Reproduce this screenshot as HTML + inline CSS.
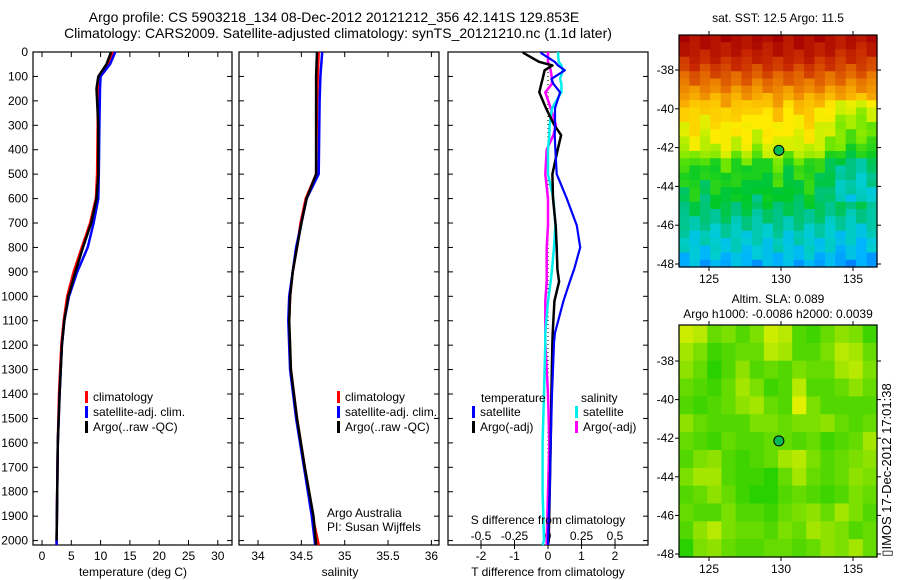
<!DOCTYPE html>
<html><head><meta charset="utf-8"><style>
html,body{margin:0;padding:0;background:#fff;}
svg{display:block;font-family:"Liberation Sans",sans-serif;}
</style></head><body>
<svg id="fig" width="900" height="580" viewBox="0 0 900 580" xmlns="http://www.w3.org/2000/svg">
<text x="334" y="22" font-size="14" text-anchor="middle">Argo profile: CS 5903218_134 08-Dec-2012 20121212_356 42.141S 129.853E</text>
<text x="338" y="38" font-size="14" text-anchor="middle">Climatology: CARS2009. Satellite-adjusted climatology: synTS_20121210.nc (1.1d later)</text>
<g id="g1"></g>
<g id="g2"></g>
<g id="g3"></g>
<g id="m1"></g>
<g id="m2"></g>
<text transform="translate(891,470) rotate(-90)" font-size="13" text-anchor="middle">▯IMOS 17-Dec-2012 17:01:38</text>
</svg>
<script>
// ---- data ----
const depthT = [0,50,100,150,300,500,600,700,800,900,1000,1100,1200,1400,1600,1800,2000,2060];
const tempClim = [12.1,11.3,9.8,9.5,9.5,9.4,9.2,8.2,6.8,5.4,4.3,3.7,3.3,2.9,2.7,2.6,2.5,2.5];
const tempSat  = [12.5,11.6,10.0,9.9,9.8,9.7,9.6,8.8,7.8,6.0,4.6,3.8,3.4,3.0,2.7,2.6,2.5,2.5];
const tempArgo = [11.8,11.0,9.6,9.3,9.6,9.6,9.3,8.4,7.0,5.7,4.5,3.8,3.4,3.0,2.7,2.6,2.5];
const depthS = [0,100,200,500,600,700,800,900,1000,1100,1200,1300,1500,1700,1900,2060];
const salClim = [34.70,34.69,34.68,34.67,34.55,34.49,34.45,34.40,34.37,34.36,34.36,34.38,34.45,34.54,34.63,34.70];
const salSat  = [34.74,34.72,34.71,34.70,34.56,34.50,34.44,34.40,34.36,34.35,34.36,34.37,34.44,34.53,34.62,34.66];
const salArgo = [34.68,34.67,34.67,34.67,34.56,34.50,34.45,34.40,34.37,34.36,34.37,34.38,34.45,34.54,34.64,34.67];
const depthD = [0,5,40,55,75,110,130,165,230,300,340,400,500,600,710,800,890,940,1020,1150,1190,1400,1600,1800,2000,2060];
const dTsat  = [-0.2,-0.2,0.2,0.3,0.5,0.1,0.16,0.36,0.21,0.21,0.2,0.22,0.26,0.56,0.86,0.96,0.78,0.65,0.46,0.21,0.18,0.12,0.08,0.05,0.0,0.0];
const dTargo = [-0.75,-0.72,-0.27,0.13,-0.1,-0.16,-0.2,-0.26,-0.06,0.19,0.39,0.29,0.13,0.15,0.23,0.26,0.28,0.33,0.19,0.14,0.13,0.1,0.08,0.05,0.02,0.0];
const dSsat  = [0.075,0.075,0.08,0.1,0.11,0.09,0.1,0.1,0.03,0.012,0.01,0.0,0.0,0.04,0.055,0.045,0.03,0.02,0.0,-0.02,-0.02,-0.03,-0.04,-0.04,-0.03,-0.04];
const dSargo = [0.0,0.0,0.0,0.01,0.02,0.03,0.03,-0.02,0.02,0.06,0.04,-0.01,-0.02,0.0,0.0,-0.01,-0.01,-0.01,-0.02,-0.02,-0.02,0.0,0.01,0.0,-0.01,-0.01];
const depthTicks = [0,100,200,300,400,500,600,700,800,900,1000,1100,1200,1300,1400,1500,1600,1700,1800,1900,2000];
const tempTicks = [0,5,10,15,20,25,30];
const salTicks = [34,34.5,35,35.5,36];
const salTickLabels = ["34","34.5","35","35.5","36"];
const dTTicks = [-2,-1,0,1,2];
const dSTicks = [-0.5,-0.25,0,0.25,0.5];
const dSTickLabels = ["-0.5","-0.25","0","0.25","0.5"];
const lonTicks = [125,130,135];
const latTicks = [-38,-40,-42,-44,-46,-48];
const argoLon = 129.853, argoLat = -42.141;
// SST map: row base colour index (north->south), and eastern cool intrusion
const sstRows = [0.97,0.95,0.93,0.9,0.87,0.83,0.8,0.76,0.72,0.68,0.65,0.63,0.61,0.6,0.58,0.56,0.52,0.46,0.44,0.43,0.42,0.41,0.4,0.39,0.37,0.35,0.33,0.31,0.3,0.29,0.27,0.25];
const sstColAdj = [0,0.02,-0.01,0.01,0.03,0,0.02,-0.02,0.01,0.03,-0.01,0.01,0.02,-0.01,-0.05,-0.08,-0.1,-0.1,-0.09];
const sstColWiggle = [0.03,-0.03,0.01,-0.02,0.03,0,-0.03,0.02,-0.01];
// SLA map: 0 = green, 1 = yellow
const slaGrid = [
[0.9,0.8,0.4,0.5,0.3,0.5,0.9,0.8,0.3,0.2,0.4,0.6,0.5,0.2],
[0.7,0.5,0.2,0.3,0.4,0.4,0.8,0.7,0.3,0.3,0.5,0.8,0.7,0.4],
[0.6,0.4,0.1,0.3,0.6,0.3,0.4,0.3,0.5,0.4,0.4,0.7,0.8,0.5],
[0.4,0.3,0.2,0.4,0.7,0.5,0.2,0.3,0.8,0.3,0.3,0.4,0.6,0.4],
[0.3,0.2,0.3,0.4,0.6,0.7,0.4,0.3,1.0,0.5,0.3,0.3,0.3,0.3],
[0.6,0.4,0.3,0.3,0.3,0.5,0.5,0.4,0.5,0.5,0.6,0.4,0.3,0.4],
[0.4,0.3,0.2,0.4,0.3,0.3,0.4,0.4,0.3,0.4,0.2,0.3,0.4,0.7],
[0.3,0.5,0.6,0.3,0.2,0.3,0.4,0.7,0.8,0.5,0.3,0.4,0.5,0.6],
[0.5,0.7,0.7,0.3,0.2,0.2,0.1,0.4,0.7,0.4,0.3,0.4,0.6,0.5],
[0.3,0.4,0.6,0.4,0.2,0.1,0.1,0.3,0.4,0.3,0.2,0.3,0.5,0.4],
[0.4,0.3,0.3,0.5,0.3,0.3,0.2,0.4,0.5,0.6,0.4,0.7,0.5,0.3],
[0.3,0.6,0.8,0.5,0.4,0.4,0.3,0.5,0.4,0.7,0.6,0.5,0.3,0.4],
[0.1,0.5,0.6,0.4,0.3,0.3,0.4,0.4,0.3,0.4,0.6,0.5,0.7,0.4]];

// ---- helpers ----
const NS = "http://www.w3.org/2000/svg";
function mk(tag, attrs, parent){ const e=document.createElementNS(NS,tag); for(const k in attrs) e.setAttribute(k,attrs[k]); parent.appendChild(e); return e; }
const Y0 = 52, YS = 0.2443;
const yD = d => Y0 + d*YS;
const PT = 545;

function axesBox(g, x0, x1){
  const r = mk('rect',{x:x0,y:Y0,width:x1-x0,height:PT-Y0,fill:'none',stroke:'#000','stroke-width':1.2},g);
  
  
  depthTicks.forEach(d=>{
    mk('line',{x1:x0,x2:x0+5,y1:yD(d),y2:yD(d),stroke:'#000'},g);
    mk('line',{x1:x1,x2:x1-5,y1:yD(d),y2:yD(d),stroke:'#000'},g);
  });
}
function line(g, xs, ds, fx, color, w, name){
  const p = xs.map((v,i)=>fx(v).toFixed(1)+','+Math.min(PT,yD(ds[i])).toFixed(1)).join(' ');
  const e = mk('polyline',{points:p,fill:'none',stroke:color,'stroke-width':w,'stroke-linejoin':'round'},g);
  
  
}
function txt(g, x, y, s, anchor, size, name){
  const t = mk('text',{x:x,y:y,'font-size':size||12,'text-anchor':anchor||'start'},g);
  t.textContent = s;
  
  
  return t;
}
function legend(g, x, y, items){
  items.forEach((it,i)=>{
    const b = mk('rect',{x:x,y:y+i*15-10,width:3,height:12,fill:it[1]},g);
    
    
    txt(g, x+8, y+i*15, it[0], 'start', 12, 'legend-entry');
  });
}

// ---- panel 1: temperature ----
const g1 = document.getElementById('g1');
const xT = v => 42 + v*5.86;
axesBox(g1, 33, 232);
depthTicks.forEach(d=>txt(g1, 28, yD(d)+4, String(d), 'end', 12, 'y-tick-label'));
tempTicks.forEach(v=>{ mk('line',{x1:xT(v),x2:xT(v),y1:PT,y2:PT-5,stroke:'#000'},g1); mk('line',{x1:xT(v),x2:xT(v),y1:Y0,y2:Y0+5,stroke:'#000'},g1); txt(g1,xT(v),560,String(v),'middle',12,'x-tick-label');});
line(g1,tempClim,depthT,xT,'#f00',2.5,'temp-climatology-line');
line(g1,tempSat,depthT,xT,'#00f',2.5,'temp-satellite-line');
line(g1,tempArgo,depthT.slice(0,tempArgo.length),xT,'#000',2.5,'temp-argo-line');
legend(g1, 85, 401, [['climatology','#f00'],['satellite-adj. clim.','#00f'],['Argo(..raw -QC)','#000']]);
txt(g1, 133, 576, 'temperature (deg C)', 'middle', 12, 'x-axis-title');

// ---- panel 2: salinity ----
const g2 = document.getElementById('g2');
const xS = v => 258 + (v-34)*86.7;
axesBox(g2, 239, 439);
salTicks.forEach((v,i)=>{ mk('line',{x1:xS(v),x2:xS(v),y1:PT,y2:PT-5,stroke:'#000'},g2); mk('line',{x1:xS(v),x2:xS(v),y1:Y0,y2:Y0+5,stroke:'#000'},g2); txt(g2,xS(v),560,salTickLabels[i],'middle',12,'x-tick-label');});
line(g2,salClim,depthS,xS,'#f00',2.5,'sal-climatology-line');
line(g2,salSat,depthS,xS,'#00f',2.5,'sal-satellite-line');
line(g2,salArgo,depthS,xS,'#000',2.5,'sal-argo-line');
legend(g2, 337, 401, [['climatology','#f00'],['satellite-adj. clim.','#00f'],['Argo(..raw -QC)','#000']]);
txt(g2, 327, 517, 'Argo Australia', 'start', 12, 'credit-line-1');
txt(g2, 327, 531, 'PI: Susan Wijffels', 'start', 12, 'credit-line-2');
txt(g2, 340, 576, 'salinity', 'middle', 12, 'x-axis-title');

// ---- panel 3: differences ----
const g3 = document.getElementById('g3');
const xDT = v => 548 + v*33.5;
const xDS = v => 548 + v*134;
axesBox(g3, 448, 648);
mk('line',{x1:548,x2:548,y1:Y0,y2:PT,stroke:'#000','stroke-dasharray':'1,3'},g3);
dTTicks.forEach(v=>{ mk('line',{x1:xDT(v),x2:xDT(v),y1:PT,y2:PT+4,stroke:'#000'},g3); txt(g3,xDT(v),560,String(v),'middle',12,'t-diff-tick-label');});
dSTicks.forEach((v,i)=>{ mk('line',{x1:xDS(v),x2:xDS(v),y1:PT,y2:PT-5,stroke:'#000'},g3); txt(g3,xDS(v),540,dSTickLabels[i],'middle',12,'s-diff-tick-label');});
line(g3,dSargo,depthD,xDS,'#f0f',2.5,'s-diff-argo-line');
line(g3,dSsat,depthD,xDS,'#0ee',2.5,'s-diff-satellite-line');
line(g3,dTargo,depthD,xDT,'#000',2.5,'t-diff-argo-line');
line(g3,dTsat,depthD,xDT,'#00f',2.2,'t-diff-satellite-line');
txt(g3, 481, 402, 'temperature', 'start', 12, 'legend-title-temperature');
txt(g3, 581, 402, 'salinity', 'start', 12, 'legend-title-salinity');
legend(g3, 472, 416, [['satellite','#00f'],['Argo(-adj)','#000']]);
legend(g3, 575, 416, [['satellite','#0ee'],['Argo(-adj)','#f0f']]);
txt(g3, 548, 524, 'S difference from climatology', 'middle', 12, 's-axis-title');
txt(g3, 548, 576, 'T difference from climatology', 'middle', 12, 't-axis-title');

// ---- maps ----
const jetStops = [[0,[0,0,140]],[0.15,[0,80,255]],[0.25,[0,180,255]],[0.3,[0,205,210]],[0.36,[0,195,130]],[0.42,[0,200,40]],[0.5,[110,230,0]],[0.56,[200,240,0]],[0.62,[255,235,0]],[0.7,[250,180,0]],[0.8,[230,110,0]],[0.9,[200,40,0]],[1,[165,0,0]]];
function jet(v){ v=Math.max(0,Math.min(1,v)); for(let i=1;i<jetStops.length;i++){ if(v<=jetStops[i][0]){ const a=jetStops[i-1],b=jetStops[i]; const t=(v-a[0])/(b[0]-a[0]); const c=a[1].map((x,k)=>Math.round(x+(b[1][k]-x)*t)); return 'rgb('+c.join(',')+')'; } } return 'rgb(165,0,0)'; }
function slaColor(v){ const a=[20,205,0], b=[225,240,0]; const c=a.map((x,k)=>Math.round(x+(b[k]-x)*v)); return 'rgb('+c.join(',')+')'; }
const MX0=679, MX1=877;
const xLon = l => 709 + (l-125)*14.4;
function mapAxes(g, top, bot, latY){
  const r = mk('rect',{x:MX0,y:top,width:MX1-MX0,height:bot-top,fill:'none',stroke:'#000','stroke-width':1.2},g);
  
  
  lonTicks.forEach(l=>{ mk('line',{x1:xLon(l),x2:xLon(l),y1:bot,y2:bot+4,stroke:'#000'},g); mk('line',{x1:xLon(l),x2:xLon(l),y1:top,y2:top-4,stroke:'#000'},g); txt(g,xLon(l),bot+16,String(l),'middle',12,'lon-tick-label');});
  latTicks.forEach(la=>{ mk('line',{x1:MX0,x2:MX0-4,y1:latY(la),y2:latY(la),stroke:'#000'},g); mk('line',{x1:MX1,x2:MX1+4,y1:latY(la),y2:latY(la),stroke:'#000'},g); txt(g,674,latY(la)+4,String(la),'end',12,'lat-tick-label');});
  const c = mk('circle',{cx:xLon(argoLon),cy:latY(argoLat),r:5,fill:'#0b5',stroke:'#000','stroke-width':1},g);
  
  
}
// SST map
const m1 = document.getElementById('m1');
const lat1 = la => 70 + (-38-la)*19.4;
const T1=35, B1=267;
const rh = (B1-T1)/sstRows.length, cw = (MX1-MX0)/sstColAdj.length;
sstRows.forEach((rv,i)=>{
  sstColAdj.forEach((ca,j)=>{
    const east = (i>=9 && i<=22) ? ca : ca*0.2;
    const v = rv + east + sstColWiggle[(i*2+j)%sstColWiggle.length];
    const r = mk('rect',{x:(MX0+j*cw).toFixed(2),y:(T1+i*rh).toFixed(2),width:(cw+0.6).toFixed(2),height:(rh+0.6).toFixed(2),fill:jet(v)},m1);
    
    
  });
});
mapAxes(m1, T1, B1, lat1);
txt(m1, 778, 22, 'sat. SST: 12.5 Argo: 11.5', 'middle', 12, 'sst-map-title');
// SLA map
const m2 = document.getElementById('m2');
const lat2 = la => 361 + (-38-la)*19.3;
const T2=325, B2=557;
const sh=(B2-T2)/slaGrid.length, sw=(MX1-MX0)/slaGrid[0].length;
slaGrid.forEach((row,i)=>row.forEach((v,j)=>{
  const r = mk('rect',{x:(MX0+j*sw).toFixed(2),y:(T2+i*sh).toFixed(2),width:(sw+0.6).toFixed(2),height:(sh+0.6).toFixed(2),fill:slaColor(v)},m2);
  
  
}));
mapAxes(m2, T2, B2, lat2);
txt(m2, 778, 303, 'Altim. SLA: 0.089', 'middle', 12, 'sla-map-title');
txt(m2, 778, 318, 'Argo h1000: -0.0086 h2000: 0.0039', 'middle', 12, 'sla-map-subtitle');
</script>
</body></html>
